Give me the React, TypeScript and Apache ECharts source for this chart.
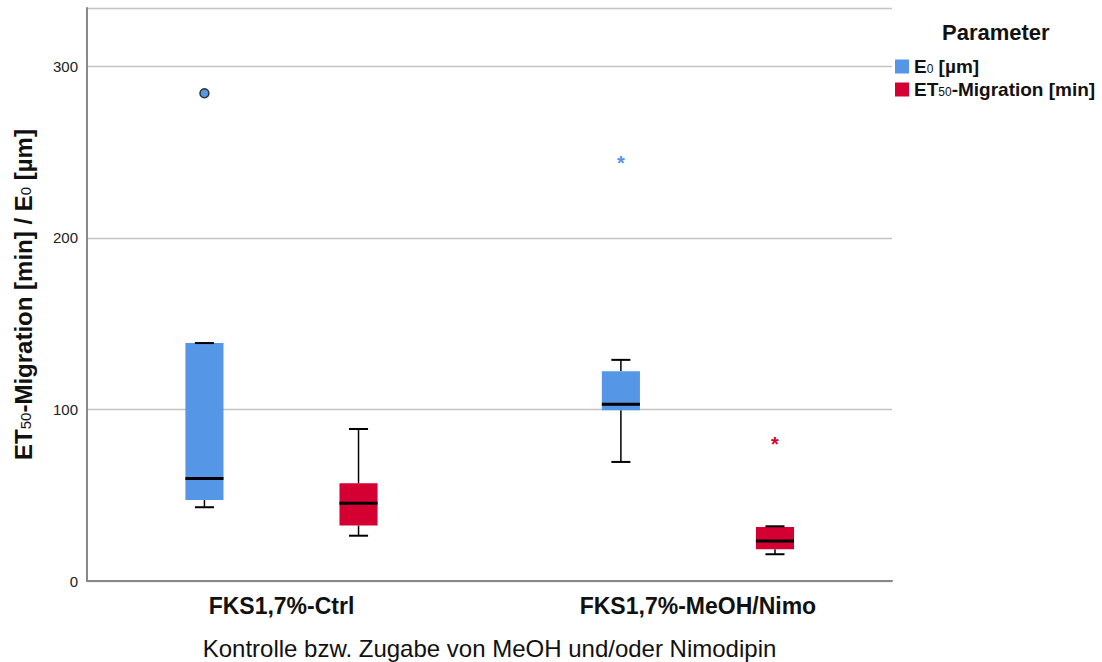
import React, { useEffect, useRef } from "react";
import * as echarts from "echarts";

// Groups on the x axis and the two measured parameters
const categories = ["FKS1,7%-Ctrl", "FKS1,7%-MeOH/Nimo"];
const parameters = ["E0 [µm]", "ET50-Migration [min]"];
// Same names as rich text, with the digits set as subscripts
const parameterLabels = ["{b|E}{s|0}{b| [µm]}", "{b|ET}{s|50}{b|-Migration [min]}"];
const colors = ["#5596e6", "#d50032"];

// Box statistics per group: [group, lower whisker, Q1, median, Q3, upper whisker]
const e0Stats = [
  [0, 43.0, 47.2, 59.7, 138.7, 138.7],
  [1, 69.4, 99.5, 103.0, 122.3, 128.9],
];
const et50Stats = [
  [0, 26.4, 32.3, 45.3, 57.0, 88.6],
  [1, 15.6, 18.5, 23.3, 31.5, 31.9],
];

// Outliers: [group, value]
const e0Outliers = [[0, 284.3]];
const e0Extremes = [[1, 244.3]];
const et50Extremes = [[1, 80.7]];

const yTicks = [0, 100, 200, 300];

const FONT = "'Liberation Sans', Arial, sans-serif";
const BOX_W = 0.0915; // box width in x-axis units
const OFFSETS = [-0.185, 0.185]; // side-by-side shift of the two parameters

function boxRenderer(offset: number, color: string) {
  return (params: any, api: any) => {
    const x = api.value(0) + offset;
    const lo = api.coord([x, api.value(1)]);
    const q1 = api.coord([x, api.value(2)]);
    const med = api.coord([x, api.value(3)]);
    const q3 = api.coord([x, api.value(4)]);
    const hi = api.coord([x, api.value(5)]);
    const half = api.size([BOX_W, 0])[0] / 2;
    const cap = half / 2;
    const cx = med[0];
    const whisker = { stroke: "#000", lineWidth: 1.5 };
    const capStyle = { stroke: "#000", lineWidth: 2 };
    return {
      type: "group",
      children: [
        { type: "line", shape: { x1: cx, y1: q3[1], x2: cx, y2: hi[1] }, style: whisker },
        { type: "line", shape: { x1: cx, y1: q1[1], x2: cx, y2: lo[1] }, style: whisker },
        { type: "line", shape: { x1: cx - cap, y1: lo[1], x2: cx + cap, y2: lo[1] }, style: capStyle },
        {
          type: "rect",
          shape: { x: cx - half, y: q3[1], width: half * 2, height: q1[1] - q3[1] },
          style: { fill: color },
        },
        { type: "line", shape: { x1: cx - half, y1: med[1], x2: cx + half, y2: med[1] }, style: { stroke: "#000", lineWidth: 3 } },
        { type: "line", shape: { x1: cx - cap, y1: hi[1], x2: cx + cap, y2: hi[1] }, style: capStyle },
      ],
    };
  };
}

function circleRenderer(offset: number, color: string) {
  return (params: any, api: any) => {
    const p = api.coord([api.value(0) + offset, api.value(1)]);
    return {
      type: "circle",
      shape: { cx: p[0], cy: p[1], r: 4.5 },
      style: { fill: color, stroke: "#333", lineWidth: 1.5 },
    };
  };
}

function starRenderer(offset: number, color: string) {
  return (params: any, api: any) => {
    const p = api.coord([api.value(0) + offset, api.value(1)]);
    return {
      type: "text",
      x: p[0],
      y: p[1] + 1.5,
      style: {
        text: "*",
        fill: color,
        font: `bold 20px ${FONT}`,
        align: "center",
        verticalAlign: "middle",
      },
    };
  };
}

export default function App() {
  const ref = useRef<HTMLDivElement>(null);

  useEffect(() => {
    document.body.style.margin = "0";
    const chart = echarts.init(ref.current!, undefined, { renderer: "svg" });
    chart.setOption({
      animation: false,
      backgroundColor: "#fff",
      textStyle: { fontFamily: FONT },
      title: {
        text: "Parameter",
        left: 942,
        top: 21,
        padding: 0,
        textStyle: { fontFamily: FONT, fontSize: 22, fontWeight: "bold", color: "#111" },
      },
      legend: {
        orient: "vertical",
        left: 895,
        top: 57,
        padding: 0,
        itemWidth: 14,
        itemHeight: 14,
        itemGap: 4,
        selectedMode: false,
        data: parameters.map((name) => ({ name, icon: "rect" })),
        formatter: (name: string) => parameterLabels[parameters.indexOf(name)],
        textStyle: {
          fontFamily: FONT,
          fontSize: 19,
          fontWeight: "bold",
          color: "#111",
          rich: {
            b: { fontFamily: FONT, fontSize: 19, fontWeight: "bold", color: "#111" },
            s: { fontFamily: FONT, fontSize: 12, fontWeight: "normal", color: "#111", verticalAlign: "bottom", padding: [0, 0, 1, 0] },
          },
        },
      },
      grid: { left: 87, right: 210, top: 8, bottom: 81, outerBoundsMode: "none", containLabel: false },
      xAxis: {
        type: "value",
        min: -0.467,
        max: 1.466,
        name: "Kontrolle bzw. Zugabe von MeOH und/oder Nimodipin",
        nameLocation: "middle",
        nameGap: 55,
        nameTextStyle: { fontFamily: FONT, fontSize: 24, color: "#111" },
        axisLine: { onZero: false, lineStyle: { color: "#888", width: 2 } },
        axisTick: { show: false },
        splitLine: { show: false },
        axisLabel: {
          customValues: [0, 1],
          formatter: (v: number) => categories[Math.round(v)],
          margin: 13,
          fontFamily: FONT,
          fontSize: 23,
          fontWeight: "bold",
          color: "#111",
        },
      },
      yAxis: {
        type: "value",
        min: 0,
        max: 334,
        interval: 100,
        name: "{b|ET}{s|50}{b|-Migration [min] / E}{s|0}{b| [µm]}",
        nameLocation: "middle",
        nameGap: 52,
        nameTextStyle: {
          fontFamily: FONT,
          fontSize: 24,
          fontWeight: "bold",
          color: "#111",
          rich: {
            b: { fontFamily: FONT, fontSize: 24, fontWeight: "bold", color: "#111" },
            s: { fontFamily: FONT, fontSize: 15, fontWeight: "normal", color: "#111", verticalAlign: "bottom", padding: [0, 0, 2, 0] },
          },
        },
        axisLine: { show: true, onZero: false, lineStyle: { color: "#888", width: 2 } },
        axisTick: { show: false },
        axisLabel: {
          customValues: yTicks,
          margin: 9,
          fontFamily: FONT,
          fontSize: 15,
          color: "#222",
        },
        splitLine: { lineStyle: { color: "#c4c4c4", width: 1.3 } },
      },
      series: [
        {
          name: parameters[0],
          type: "custom",
          itemStyle: { color: colors[0] },
          renderItem: boxRenderer(OFFSETS[0], colors[0]),
          encode: { x: 0, y: [1, 2, 3, 4, 5] },
          data: e0Stats,
          z: 3,
        },
        {
          name: parameters[1],
          type: "custom",
          itemStyle: { color: colors[1] },
          renderItem: boxRenderer(OFFSETS[1], colors[1]),
          encode: { x: 0, y: [1, 2, 3, 4, 5] },
          data: et50Stats,
          z: 3,
        },
        {
          type: "custom",
          renderItem: circleRenderer(OFFSETS[0], colors[0]),
          encode: { x: 0, y: 1 },
          data: e0Outliers,
          z: 4,
        },
        {
          type: "custom",
          renderItem: starRenderer(OFFSETS[0], colors[0]),
          encode: { x: 0, y: 1 },
          data: e0Extremes,
          z: 4,
        },
        {
          type: "custom",
          renderItem: starRenderer(OFFSETS[1], colors[1]),
          encode: { x: 0, y: 1 },
          data: et50Extremes,
          z: 4,
        },
      ],
    });
    return () => chart.dispose();
  }, []);

  return <div ref={ref} style={{ width: 1102, height: 662 }} />;
}
